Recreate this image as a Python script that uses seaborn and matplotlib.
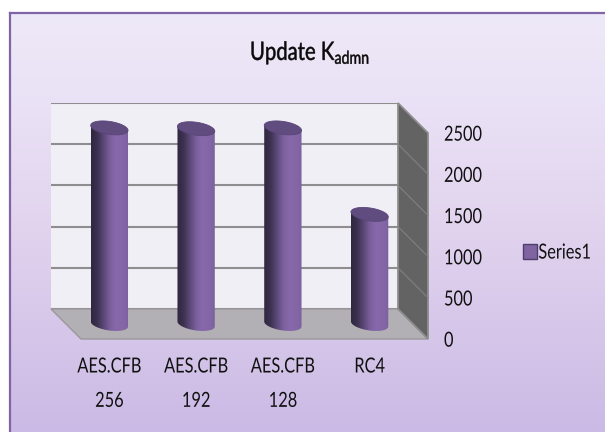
#!/usr/bin/env python3

import numpy as np
import seaborn as sns
from matplotlib import pyplot as plt
from matplotlib.colors import LinearSegmentedColormap
from matplotlib.patches import Polygon
from matplotlib.patheffects import AbstractPathEffect
from matplotlib.transforms import Affine2D

categories = ["AES.CFB\n256", "AES.CFB\n192", "AES.CFB\n128", "RC4"]
values = [2380, 2370, 2380, 1330]
yticks = [0, 500, 1000, 1500, 2000, 2500]
series_name = "Series1"

W, H = 605, 432
YMAX = 2500

sns.set_theme(style="white")
plt.rcParams['font.family'] = ['Lato', 'DejaVu Sans']
plt.rcParams['mathtext.default'] = 'regular'


class Tall(AbstractPathEffect):
    # the reference text is squeezed sideways, so stretch the glyphs upward
    def __init__(self, stretch=1.27, drop=2.2, stroke=0.0):
        super().__init__()
        self.stretch, self.drop, self.stroke = stretch, drop, stroke

    def draw_path(self, renderer, gc, tpath, affine, rgbFace=None):
        tr = Affine2D().scale(1, self.stretch) + affine + Affine2D().translate(0, -self.drop)
        gc0 = renderer.new_gc()
        gc0.copy_properties(gc)
        gc0.set_linewidth(self.stroke)
        if self.stroke:
            gc0.set_foreground(rgbFace)
        renderer.draw_path(gc0, tpath, tr, rgbFace)
        gc0.restore()


def axes_px(fig, x0, y0, x1, y1, **kw):
    # y0 is the top edge, y1 the bottom edge, in image pixels
    return fig.add_axes([x0 / W, 1 - y1 / H, (x1 - x0) / W, (y1 - y0) / H], **kw)


fig = plt.figure(figsize=(W / 100, H / 100), dpi=100, facecolor='white')

# panel background
bg = axes_px(fig, 10, 13, W, H, zorder=0)
bg_cmap = LinearSegmentedColormap.from_list(
    'bg', ['#EEE9F8', '#E9E0F5', '#E2D4EE', '#D6C7EA', '#CBBAE5'])
bg.imshow(np.linspace(0, 1, 256)[:, None], aspect='auto', cmap=bg_cmap)
bg.set_xticks([])
bg.set_yticks([])
for name, spine in bg.spines.items():
    spine.set_visible(name in ('left', 'top'))
    spine.set_color('#8064A8')
    spine.set_linewidth(1.6)

# back wall, carries the gridlines
back = axes_px(fig, 51, 103, 398, 309, zorder=1, facecolor='#F1EFF6')
back.set_xlim(0, 1)
back.set_ylim(0, YMAX)
back.set_xticks([])
back.set_yticks(yticks)
back.tick_params(labelleft=False, length=0)
back.grid(axis='y', color='#8F8D90', linewidth=1.5)
sns.despine(ax=back, left=True, bottom=True, top=True, right=True)

# floor and side wall
shell = axes_px(fig, 0, 0, W, H, zorder=2)
shell.set_xlim(0, W)
shell.set_ylim(H, 0)
shell.axis('off')
shell.patch.set_alpha(0)
shell.add_patch(Polygon([(51, 309), (398, 309), (428, 339), (81, 339)],
                        fc='#B2B0B4', ec='#9A989C', lw=1))
shell.add_patch(Polygon([(398, 103), (428, 133), (428, 339), (398, 309)],
                        fc='#636363', ec='#8E8E8E', lw=1.3))
for t in yticks[1:-1]:
    y = 309 - t / YMAX * 206
    shell.plot([398, 428], [y, y + 30], color='#808080', lw=0.8)

# front plane, carries the value labels
front = axes_px(fig, 81, 133, 428, 339, zorder=3)
front.patch.set_alpha(0)
front.set_ylim(0, YMAX)
front.set_xticks([])
front.set_yticks(yticks)
front.yaxis.tick_right()
front.tick_params(axis='y', length=0, pad=11.5, labelsize=11.8, labelcolor='#111111')
sns.despine(ax=front, left=True, bottom=True, top=True, right=True)
for label in front.get_yticklabels():
    label.set_path_effects([Tall()])

# bars sit half way between the wall and the front edge
mid = axes_px(fig, 66, 118, 413, 324, zorder=4)
mid.patch.set_alpha(0)
sns.barplot(x=categories, y=values, color='#8064A2', width=0.43, saturation=1,
            label=series_name, ax=mid)
mid.set_xlim(-0.5, len(categories) - 0.5)
mid.set_ylim(0, YMAX)
mid.set_yticks([])
mid.tick_params(axis='x', length=0, pad=27, labelsize=11.8, labelcolor='#111111')
for label in mid.get_xticklabels():
    label.set_linespacing(2.85)
    label.set_path_effects([Tall(drop=0)])
sns.despine(ax=mid, left=True, bottom=True, top=True, right=True)

bar_cmap = LinearSegmentedColormap.from_list(
    'bar', ['#2F2740', '#3D3150', '#5B4877', '#7A5F9C', '#8769AB', '#8567A8', '#7C619F'])
theta = np.linspace(0, 2 * np.pi, 120)
ry = 6.5 / 206 * YMAX
tilt = 2.5 / 206 * YMAX

for bar in list(mid.patches):
    x0, w, top = bar.get_x(), bar.get_width(), bar.get_height()
    rx, cx = w / 2, x0 + w / 2
    bar.set_visible(False)

    # side of the cylinder, clipped to the rounded foot
    lower = np.linspace(np.pi, 2 * np.pi, 60)
    outline = np.column_stack([
        np.r_[x0, cx + rx * np.cos(lower), x0 + w],
        np.r_[top + tilt, ry * np.sin(lower) - tilt * np.cos(lower), top - tilt]])
    clip = Polygon(outline, transform=mid.transData, fc='none', ec='none', clip_on=False)
    mid.add_patch(clip)
    im = mid.imshow(np.linspace(0, 1, 128)[None, :], cmap=bar_cmap, aspect='auto',
                    extent=[x0, x0 + w, -2 * ry, top + 2 * ry], zorder=3)
    im.set_clip_box(fig.bbox)
    im.set_clip_path(clip)

    # cap
    cap = np.column_stack([cx + rx * np.cos(theta),
                           top + ry * np.sin(theta) - tilt * np.cos(theta)])
    mid.add_patch(Polygon(cap, fc='#614C80', ec='#5A4678', lw=0.6, zorder=4, clip_on=False))

mid.set_xlim(-0.5, len(categories) - 0.5)
mid.set_ylim(0, YMAX)

handles, labels = mid.get_legend_handles_labels()
leg = mid.legend(handles, labels, loc='center left', frameon=False, fontsize=11.8,
                 bbox_to_anchor=(508 / W, 1 - 252 / H),
                 bbox_transform=fig.transFigure,
                 handlelength=0.85, handleheight=1.0, handletextpad=0.1,
                 labelcolor='#111111')
for h in leg.legend_handles:
    h.set_visible(True)
    h.set_facecolor('#8064A2')
    h.set_edgecolor('#4F3D6E')
    h.set_linewidth(1)
for t in leg.get_texts():
    t.set_path_effects([Tall(drop=1.6)])

fig.text(310 / W, 1 - 60 / H, r'Update K$_{admn}$', ha='center', va='baseline',
         fontsize=14.6, color='#0A0A0A', zorder=10,
         path_effects=[Tall(stretch=1.25, drop=0, stroke=0.35)])

plt.savefig("out.png", dpi=100)
